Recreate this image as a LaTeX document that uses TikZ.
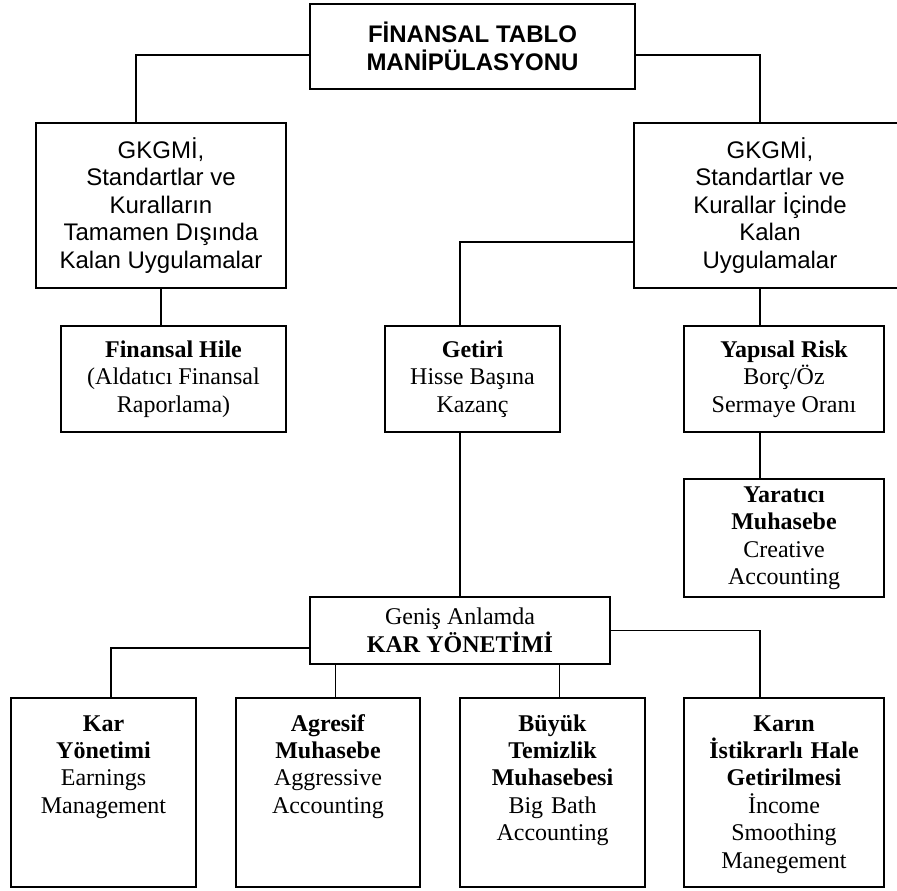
\documentclass[tikz,border=0pt]{standalone}
\usepackage{fontspec}
\setmainfont{Liberation Serif}
\setsansfont{Liberation Sans}

\begin{document}
\begin{tikzpicture}[x=0.75pt, y=-0.75pt,
    box/.style={draw=black, line width=1.4pt, inner sep=0pt, align=center,
        font=\fontsize{18pt}{20.6pt}\selectfont},
    sbox/.style={box, font=\fontsize{18pt}{20.6pt}\selectfont\sffamily},
    leaf/.style={box, text height=24.75pt, text depth=117pt},
    link/.style={-, line width=1.4pt}]
    \useasboundingbox (0,0) rectangle (897,890);

    \node[sbox, minimum width=243.75pt, minimum height=63.75pt] (top) at (472.5,46.5) {\bfseries F\.{I}NANSAL TABLO\\\bfseries MAN\.{I}PÜLASYONU};
    \node[sbox, minimum width=187.5pt, minimum height=123.75pt] (gkL) at (161,205.5) {GKGM\.{I},\\Standartlar ve\\Kuralların\\Tamamen Dışında\\Kalan Uygulamalar};
    \node[sbox, minimum width=204pt, minimum height=123.75pt] (gkR) at (770,205.5) {GKGM\.{I},\\Standartlar ve\\Kurallar \.{I}çinde\\Kalan\\Uygulamalar};

    \node[box, minimum width=168.75pt, minimum height=79.5pt] (hile) at (173.5,379) {\textbf{Finansal Hile}\\(Aldatıcı Finansal\\Raporlama)};
    \node[box, minimum width=131.25pt, minimum height=79.5pt] (getiri) at (472.5,379) {\textbf{Getiri}\\Hisse Başına\\Kazanç};
    \node[box, minimum width=150pt, minimum height=79.5pt] (yapisal) at (784,379) {\textbf{Yapısal Risk}\\Borç/Öz\\Sermaye Oranı};
    \node[box, minimum width=150pt, minimum height=88.5pt] (yaratici) at (784,538) {\textbf{Yaratıcı}\\\textbf{Muhasebe}\\Creative\\Accounting};

    \node[box, minimum width=225pt, minimum height=50.25pt] (kar) at (460,630.5) {Geniş Anlamda\\\textbf{KAR YÖNET\.{I}M\.{I}}};

    \node[leaf, text width=138.75pt] (karyon) at (103.5,792.5) {\textbf{Kar}\\\textbf{Yönetimi}\\Earnings\\Management};
    \node[leaf, text width=138pt] (agresif) at (328,792.5) {\textbf{Agresif}\\\textbf{Muhasebe}\\Aggressive\\Accounting};
    \node[leaf, text width=138.75pt] (buyuk) at (552.5,792.5) {\textbf{Büyük}\\\textbf{Temizlik}\\\textbf{Muhasebesi}\\Big Bath\\Accounting};
    \node[leaf, text width=150pt] (karin) at (784,792.5) {\textbf{Karın}\\\textbf{\.{I}stikrarlı Hale}\\\textbf{Getirilmesi}\\\.{I}ncome\\Smoothing\\Manegement};

    \draw[link] ([yshift=-6.4pt]top.west) -| ([xshift=-18.75pt]gkL.north);
    \draw[link] ([yshift=-6.4pt]top.east) -| ([xshift=-7.5pt]gkR.north);
    \draw[link] (gkL.south) -- (gkL.south |- hile.north);
    \draw[link] ([yshift=-27.4pt]gkR.west) -| ([xshift=-9.4pt]getiri.north);
    \draw[link] ([xshift=-7.5pt]gkR.south) -- ([xshift=-7.5pt]gkR.south |- yapisal.north);
    \draw[link] ([xshift=-18pt]yapisal.south) -- ([xshift=-18pt]yaratici.north);
    \draw[link] (kar.north) -- (kar.north |- getiri.south);

    \draw[link] ([yshift=-13.1pt]kar.west) -| ([xshift=5.6pt]karyon.north);
    \draw[link] ([xshift=5.6pt]agresif.north) -- ([xshift=5.6pt]agresif.north |- kar.south);
    \draw[link] ([xshift=5.25pt]buyuk.north) -- ([xshift=5.25pt]buyuk.north |- kar.south);
    \draw[link] (kar.east) -| ([xshift=-18pt]karin.north);

\end{tikzpicture}
\end{document}
